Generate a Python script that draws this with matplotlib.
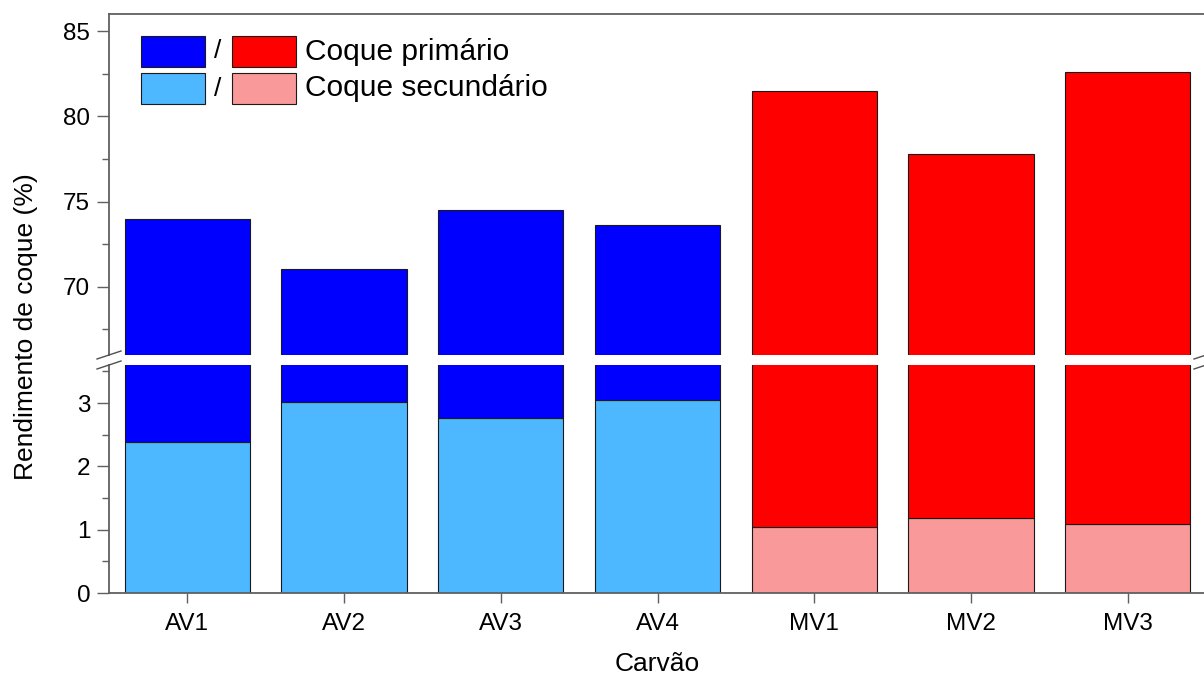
import matplotlib
matplotlib.use("Agg")
import matplotlib.pyplot as plt
from matplotlib.patches import Rectangle
from matplotlib.ticker import MultipleLocator

plt.rcParams['font.family'] = ['Liberation Sans', 'DejaVu Sans']

# Coke yield data per coal sample
carvoes = ["AV1", "AV2", "AV3", "AV4", "MV1", "MV2", "MV3"]
coque_total = [73.99, 71.05, 74.48, 73.64, 81.50, 77.80, 82.57]
coque_secundario = [2.38, 3.01, 2.76, 3.04, 1.05, 1.18, 1.09]
coque_primario = [t - s for t, s in zip(coque_total, coque_secundario)]

cor_primario = ["#0000FF"] * 4 + ["#FF0000"] * 3
cor_secundario = ["#4DB8FF"] * 4 + ["#F99999"] * 3

W, H = 1204, 677
fig = plt.figure(figsize=(W / 100, H / 100), dpi=100)

left_px, right_px = 109, 1206
up_top, up_bot = 14, 355
lo_top, lo_bot = 365, 593

def rect(top, bot):
    return [left_px / W, 1 - bot / H, (right_px - left_px) / W, (bot - top) / H]

ax_up = fig.add_axes(rect(up_top, up_bot))
ax_lo = fig.add_axes(rect(lo_top, lo_bot))

x = list(range(len(carvoes)))
edge = "#1a1a1a"
for ax in (ax_up, ax_lo):
    ax.bar(x, coque_secundario, width=0.8, color=cor_secundario, edgecolor=edge, linewidth=0.8)
    ax.bar(x, coque_primario, bottom=coque_secundario, width=0.8, color=cor_primario,
           edgecolor=edge, linewidth=0.8)
    ax.set_xlim(-0.5, 6.5)
    for s in ax.spines.values():
        s.set_color("#606060")
        s.set_linewidth(1.3)
    ax.tick_params(axis='y', which='major', direction='out', length=8.5, width=1.0,
                   color="#606060", labelsize=17.5, pad=5)
    ax.tick_params(axis='y', which='minor', direction='out', length=4.8, width=1.0,
                   color="#606060")

ax_up.set_ylim(66, 86)
ax_up.yaxis.set_major_locator(MultipleLocator(5))
ax_up.yaxis.set_minor_locator(MultipleLocator(2.5))
ax_up.spines['bottom'].set_visible(False)
ax_up.tick_params(axis='x', which='both', bottom=False, labelbottom=False)

ax_lo.set_ylim(0, 3.6)
ax_lo.yaxis.set_major_locator(MultipleLocator(1))
ax_lo.yaxis.set_minor_locator(MultipleLocator(0.5))
ax_lo.spines['top'].set_visible(False)
ax_lo.set_xticks(x)
ax_lo.set_xticklabels(carvoes)
ax_lo.tick_params(axis='x', which='major', direction='out', length=7.5, width=1.0,
                  color="#606060", labelsize=17.5, pad=7)
ax_lo.set_xlabel("Carvão", fontsize=19, labelpad=12)

fig.text(26 / W, 1 - 327 / H, "Rendimento de coque (%)", rotation=90,
         ha='center', va='center', fontsize=19)

# Axis-break marks on both vertical edges
for xc in (left_px, right_px):
    for yc in (up_bot, lo_top):
        fig.add_artist(plt.Line2D([(xc - 12) / W, (xc + 12) / W],
                                  [1 - (yc + 4) / H, 1 - (yc - 4) / H],
                                  transform=fig.transFigure, color="#505050", lw=1.0))

# Legend: two swatches per row separated by a slash
rows = [("Coque primário", "#0000FF", "#FF0000", 36),
        ("Coque secundário", "#4DB8FF", "#F99999", 73)]
for label, c1, c2, top in rows:
    h = 31
    for x0, c in ((141, c1), (232, c2)):
        fig.add_artist(Rectangle((x0 / W, 1 - (top + h) / H), 64 / W, h / H,
                                 transform=fig.transFigure, facecolor=c,
                                 edgecolor=edge, linewidth=0.8))
    yc = 1 - (top + h / 2) / H
    fig.text(218 / W, yc, "/", ha='center', va='center', fontsize=19)
    fig.text(305 / W, yc, label, ha='left', va='center', fontsize=21.5)

fig.savefig("out.png", dpi=100)
